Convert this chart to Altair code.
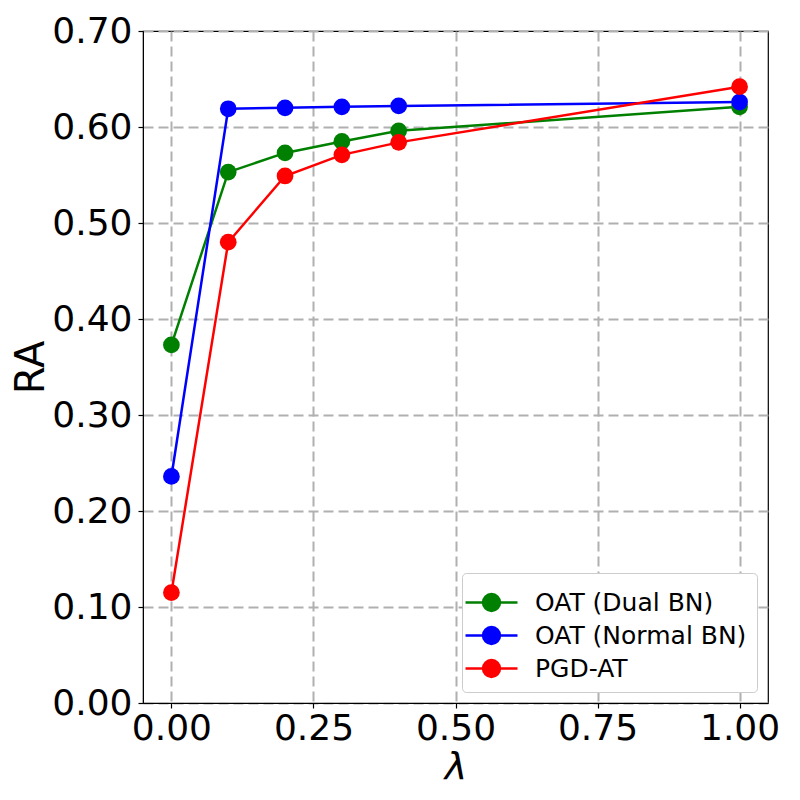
import altair as alt
import pandas as pd

lam = [0.0, 0.1, 0.2, 0.3, 0.4, 1.0]
series_names = ["OAT (Dual BN)", "OAT (Normal BN)", "PGD-AT"]
series_colors = ["#008000", "#0000ff", "#ff0000"]
dual_bn = [0.373, 0.553, 0.573, 0.585, 0.596, 0.621]
normal_bn = [0.236, 0.619, 0.620, 0.621, 0.622, 0.626]
pgd_at = [0.115, 0.480, 0.549, 0.571, 0.584, 0.642]
x_ticks = [0.0, 0.25, 0.5, 0.75, 1.0]
y_ticks = [0.0, 0.1, 0.2, 0.3, 0.4, 0.5, 0.6, 0.7]

rows = []
for name, vals in zip(series_names, [dual_bn, normal_bn, pgd_at]):
    for x, y in zip(lam, vals):
        rows.append({"lam": x, "ra": y, "series": name})
df = pd.DataFrame(rows)

sym = "M-1.444,0L1.444,0M0.47,0A0.47,0.47,0,1,1,-0.47,0A0.47,0.47,0,1,1,0.47,0Z"

legend = alt.Legend(
    title=None, orient="bottom-right", offset=11,
    symbolType=sym, symbolSize=1296, symbolStrokeWidth=2.5,
    labelFontSize=25, labelFont="DejaVu Sans", labelColor="black",
    labelOffset=24, labelLimit=0, rowPadding=0, padding=10,
    strokeColor="#cccccc", fillColor="white", cornerRadius=4,
)
stroke_scale = alt.Scale(domain=series_names, range=series_colors)

xenc = alt.X("lam:Q", scale=alt.Scale(domain=[-0.05, 1.05], nice=False, zero=False),
             axis=alt.Axis(values=x_ticks, format=".2f", title="λ",
                           titleFontStyle="italic", titleFontWeight="normal",
                           titleFontSize=38, titlePadding=2, labelPadding=3))
yenc = alt.Y("ra:Q", scale=alt.Scale(domain=[0, 0.7], nice=False),
             axis=alt.Axis(values=y_ticks, format=".2f", title="RA",
                           titleFontSize=40, titleFontWeight="normal",
                           titlePadding=0, labelPadding=6))

layers = []
for name in series_names:
    sub = alt.Chart(df).transform_filter(alt.datum.series == name)
    line = sub.mark_line(strokeWidth=2.5).encode(
        x=xenc, y=yenc,
        stroke=alt.Stroke("series:N", scale=stroke_scale, legend=legend),
    )
    pts = sub.mark_circle(size=280, opacity=1).encode(
        x=xenc, y=yenc,
        fill=alt.Fill("series:N", scale=stroke_scale, legend=legend),
    )
    layers += [line, pts]

chart = alt.layer(*layers).properties(
    width=625, height=672,
    autosize=alt.AutoSizeParams(type="none"),
    padding={"left": 135, "top": 23, "right": 24, "bottom": 89},
).configure_view(
    stroke="black", strokeWidth=1.2
).configure_axis(
    labelFont="DejaVu Sans", titleFont="DejaVu Sans",
    labelFontSize=36, labelColor="black", titleColor="black",
    domainColor="black", tickColor="black", tickSize=5, tickWidth=1.2,
    grid=True, gridColor="#b0b0b0", gridDash=[10, 5], gridWidth=2, gridOpacity=1,
)

chart.save("out.html", embed_options={"renderer": "svg", "actions": False})
